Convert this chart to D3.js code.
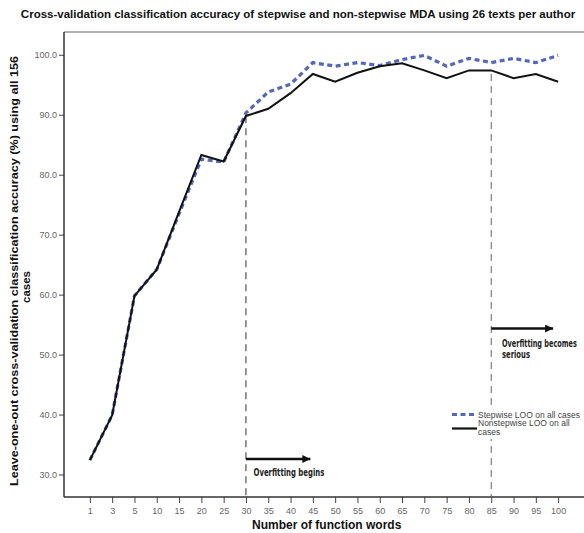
<!DOCTYPE html>
<html>
<head>
<meta charset="utf-8">
<script src="https://cdn.jsdelivr.net/npm/d3@7/dist/d3.min.js"></script>
<style>
  html, body { margin: 0; padding: 0; background: #fff; }
  svg { display: block; }
</style>
</head>
<body>
<svg id="chart" width="584" height="533"></svg>
<script>
// ---- Data ----
const categories = ["1","3","5","10","15","20","25","30","35","40","45","50","55","60","65","70","75","80","85","90","95","100"];
const stepwise    = [32.4, 39.9, 59.8, 64.2, 73.5, 82.6, 82.1, 90.3, 93.8, 95.1, 98.7, 98.1, 98.7, 98.2, 99.2, 99.9, 98.1, 99.4, 98.7, 99.4, 98.7, 99.9];
const nonstepwise = [32.4, 39.9, 59.8, 64.2, 73.8, 83.3, 82.2, 89.8, 91.0, 93.6, 96.8, 95.5, 97.0, 98.1, 98.6, 97.4, 96.1, 97.4, 97.4, 96.1, 96.8, 95.5];
const yTicks = [30, 40, 50, 60, 70, 80, 90, 100];
const seriesNames = ["Stepwise LOO on all cases", "Nonstepwise LOO on all cases"];

(function () {
const svg = d3.select("#chart");
const pLeft = 64, pRight = 584, pTop = 32, pBottom = 497;

const x = d3.scalePoint().domain(categories).range([pLeft, pRight]).padding(1.16);
const y = d3.scaleLinear().domain([26.25, 103.8]).range([pBottom, pTop]);

// Title
svg.append("text")
  .attr("x", 298).attr("y", 18).attr("text-anchor", "middle")
  .style("font-family", "'Liberation Sans',Arial,sans-serif")
  .style("font-weight", "bold").style("font-size", "11.5px").style("fill", "#111")
  .text("Cross-validation classification accuracy of stepwise and non-stepwise MDA using 26 texts per author");

// Top frame line
svg.append("line").attr("x1", pLeft).attr("x2", pRight).attr("y1", pTop).attr("y2", pTop)
  .attr("stroke", "#666").attr("stroke-width", 1.2);

// Y axis
const yAxis = svg.append("g").attr("transform", `translate(${pLeft},0)`)
  .call(d3.axisLeft(y).tickValues(yTicks).tickFormat(d3.format(".1f")).tickSize(5).tickPadding(2).tickSizeOuter(0));
yAxis.select(".domain").remove();
yAxis.append("line").attr("x1", 0).attr("x2", 0).attr("y1", pTop).attr("y2", pBottom)
  .attr("stroke", "#333").attr("stroke-width", 1.5);
yAxis.selectAll(".tick line").attr("stroke", "#444");
yAxis.selectAll(".tick text").style("font-family", "'Liberation Sans',Arial,sans-serif")
  .style("font-size", "9px").style("fill", "#666");

// X axis
const xAxis = svg.append("g").attr("transform", `translate(0,${pBottom})`)
  .call(d3.axisBottom(x).tickSize(6).tickPadding(5).tickSizeOuter(0));
xAxis.select(".domain").remove();
xAxis.append("line").attr("x1", pLeft).attr("x2", pRight).attr("y1", 0).attr("y2", 0)
  .attr("stroke", "#333").attr("stroke-width", 1.5);
xAxis.selectAll(".tick line").attr("stroke", "#444");
xAxis.selectAll(".tick text").style("font-family", "'Liberation Sans',Arial,sans-serif")
  .style("font-size", "9px").style("fill", "#666");

// Axis titles
svg.append("text")
  .attr("x", 252).attr("y", 529)
  .style("font-family", "'Liberation Sans',Arial,sans-serif")
  .style("font-weight", "bold").style("font-size", "12px").style("fill", "#111")
  .text("Number of function words");

const yt = svg.append("g").attr("transform", "rotate(-90)")
  .style("font-family", "'Liberation Sans',Arial,sans-serif")
  .style("font-weight", "bold").style("font-size", "11.5px").style("fill", "#111");
yt.append("text").attr("x", -486).attr("y", 18)
  .attr("textLength", 430).attr("lengthAdjust", "spacingAndGlyphs")
  .text("Leave-one-out cross-validation classification accuracy (%) using all 156");
yt.append("text").attr("x", -287).attr("y", 30).attr("text-anchor", "middle")
  .text("cases");

// Vertical dashed markers
svg.append("line").attr("x1", x("30")).attr("x2", x("30"))
  .attr("y1", y(89.75)).attr("y2", pBottom)
  .attr("stroke", "#333").attr("stroke-width", 1).attr("stroke-dasharray", "7,5");
svg.append("line").attr("x1", x("85")).attr("x2", x("85"))
  .attr("y1", y(96.8)).attr("y2", pBottom)
  .attr("stroke", "#666").attr("stroke-width", 1).attr("stroke-dasharray", "7,5");

// Lines
const line = d3.line().x((d, i) => x(categories[i])).y(d => y(d));
svg.append("path").datum(stepwise).attr("d", line)
  .attr("fill", "none").attr("stroke", "#5468b4").attr("stroke-width", 3.2)
  .attr("stroke-dasharray", "5,3.5");
svg.append("path").datum(nonstepwise).attr("d", line)
  .attr("fill", "none").attr("stroke", "#111").attr("stroke-width", 2);

// Arrow marker
svg.append("defs").append("marker")
  .attr("id", "arrow").attr("viewBox", "0 0 10 10").attr("refX", 10).attr("refY", 5)
  .attr("markerWidth", 11).attr("markerHeight", 8).attr("markerUnits", "userSpaceOnUse")
  .attr("orient", "auto")
  .append("path").attr("d", "M0,0 L10,5 L0,10 Z").attr("fill", "#111");

svg.append("line").attr("x1", x("30")).attr("x2", x("45") - 2.5)
  .attr("y1", 459).attr("y2", 459)
  .attr("stroke", "#111").attr("stroke-width", 2.5).attr("marker-end", "url(#arrow)");
svg.append("line").attr("x1", x("85")).attr("x2", x("100") - 5)
  .attr("y1", 328.5).attr("y2", 328.5)
  .attr("stroke", "#111").attr("stroke-width", 2.5).attr("marker-end", "url(#arrow)");

// Condensed annotation text (horizontally scaled to target width)
function condensed(px, py, width, txt) {
  const t = svg.append("text")
    .style("font-family", "'DejaVu Sans Condensed','DejaVu Sans',sans-serif")
    .style("font-weight", "bold").style("font-size", "10px").style("fill", "#222")
    .text(txt);
  const w = t.node().getComputedTextLength() || width;
  t.attr("transform", `translate(${px},${py}) scale(${width / w},1)`);
}
condensed(253.5, 476, 71, "Overfitting begins");
condensed(502, 347, 75, "Overfitting becomes");
condensed(502, 358, 28, "serious");

// Legend
const lg = svg.append("g");
lg.append("rect").attr("x", 448).attr("y", 407).attr("width", 136).attr("height", 32).attr("fill", "#fff");
lg.append("line").attr("x1", 452).attr("x2", 477).attr("y1", 414.5).attr("y2", 414.5)
  .attr("stroke", "#5468b4").attr("stroke-width", 3.2).attr("stroke-dasharray", "5,3.5");
lg.append("line").attr("x1", 452).attr("x2", 477).attr("y1", 428.5).attr("y2", 428.5)
  .attr("stroke", "#111").attr("stroke-width", 2.2);
const lt = lg.append("g").style("font-family", "'Liberation Sans',Arial,sans-serif")
  .style("font-size", "8.5px").style("fill", "#444");
lt.append("text").attr("x", 478).attr("y", 417.5).text(seriesNames[0]);
lt.append("text").attr("x", 478).attr("y", 426).text("Nonstepwise LOO on all");
lt.append("text").attr("x", 478).attr("y", 435).text("cases");
})();
</script>
</body>
</html>
